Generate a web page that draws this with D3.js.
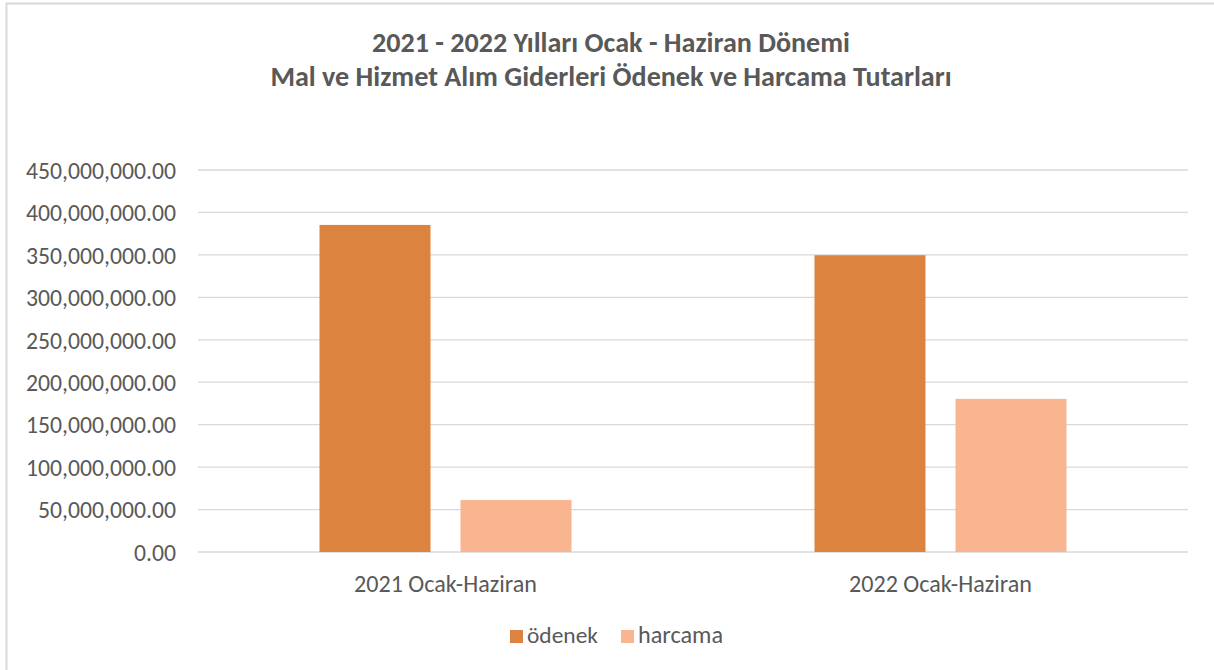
<!DOCTYPE html>
<html>
<head>
<meta charset="utf-8">
<script src="https://cdn.jsdelivr.net/npm/d3@7"></script>
<style>
html,body{margin:0;padding:0;background:#fff;}
svg{display:block;font-family:Carlito,Calibri,Lato,"Open Sans",sans-serif;}
</style>
</head>
<body>
<svg id="chart" width="1214" height="670"></svg>
<script>
const titleLines = ["2021 - 2022 Yılları Ocak - Haziran Dönemi", "Mal ve Hizmet Alım Giderleri Ödenek ve Harcama Tutarları"];
const categories = ["2021 Ocak-Haziran", "2022 Ocak-Haziran"];
const seriesNames = ["ödenek", "harcama"];
const odenek = [385300000, 349600000];
const harcama = [61200000, 180400000];
const yTicks = [0, 50000000, 100000000, 150000000, 200000000, 250000000, 300000000, 350000000, 400000000, 450000000];
const colors = ["#DC843F", "#F8B58F"];

const svg = d3.select("#chart");
const W = 1214, H = 670;
const m = {left: 198, right: 26, top: 170, bottom: 118};
const pw = W - m.left - m.right, ph = H - m.top - m.bottom;
const textColor = "#595959";
const FONT = "Carlito,Calibri,Lato,'Open Sans',sans-serif";

// scale a text's font size so its rendered width matches a target width
function fitWidth(node, target) {
  const sel = d3.select(node);
  const fs = parseFloat(sel.attr("font-size"));
  const w = node.getComputedTextLength();
  if (w > 0) sel.attr("font-size", (fs * target / w).toFixed(2));
  return parseFloat(sel.attr("font-size"));
}

// outer border (top and left visible)
svg.append("path").attr("d", "M6.5,670 L6.5,3.5 L1214,3.5").attr("fill","none").attr("stroke","#D9D9D9").attr("stroke-width",2);

// title
const titleSel = svg.append("g").selectAll("text").data(titleLines).join("text")
  .attr("x", 611).attr("y", (d,i)=> 52 + i*34).attr("text-anchor","middle")
  .attr("font-size", 22).attr("font-weight","bold").attr("font-family", FONT)
  .attr("fill", textColor).text(d=>d);
{
  const tfs = fitWidth(titleSel.nodes()[0], 478);
  titleSel.attr("font-size", tfs);
}

const g = svg.append("g").attr("transform", `translate(${m.left},${m.top})`);
const y = d3.scaleLinear().domain([0, 450000000]).range([ph, 0]);
const x0 = d3.scaleBand().domain(categories).range([0, pw]).paddingInner(0).paddingOuter(0);
const groupW = 252;
const x1 = d3.scaleBand().domain(seriesNames)
  .range([(x0.bandwidth()-groupW)/2, (x0.bandwidth()+groupW)/2])
  .paddingInner(0.2128).paddingOuter(0);

// gridlines
g.append("g").selectAll("line").data(yTicks).join("line")
  .attr("x1",0).attr("x2",pw).attr("y1",d=>y(d)).attr("y2",d=>y(d))
  .attr("stroke","#D9D9D9").attr("stroke-width",1.3);

// y axis
const fmt = d3.format(",.2f");
const yAxis = g.append("g").call(d3.axisLeft(y).tickValues(yTicks).tickFormat(fmt).tickSize(0).tickPadding(22));
yAxis.select(".domain").remove();
yAxis.selectAll("text").attr("font-size", 20).attr("fill", textColor).attr("font-family", FONT).attr("dy","0.35em");
{
  const widest = yAxis.selectAll("text").filter(d=>d===450000000).node();
  const fs = parseFloat(d3.select(widest).attr("font-size"));
  const newFs = (fs * 150 / widest.getComputedTextLength()).toFixed(2);
  yAxis.selectAll("text").attr("font-size", newFs);
}

// bars
const data = categories.map((c,i)=>({cat:c, vals:[{s:seriesNames[0], v:odenek[i]},{s:seriesNames[1], v:harcama[i]}]}));
const grp = g.append("g").selectAll("g").data(data).join("g").attr("transform", d=>`translate(${x0(d.cat)},0)`);
grp.selectAll("rect").data(d=>d.vals).join("rect")
  .attr("x", d=>x1(d.s)).attr("width", x1.bandwidth())
  .attr("y", d=>y(d.v)).attr("height", d=>ph - y(d.v))
  .attr("fill", (d,i)=>colors[i]);

// x axis
const xAxis = g.append("g").attr("transform", `translate(0,${ph})`).call(d3.axisBottom(x0).tickSize(0).tickPadding(23));
xAxis.select(".domain").remove();
xAxis.selectAll("text").attr("font-size", 19).attr("fill", textColor).attr("font-family", FONT)
  .each(function(){ fitWidth(this, 183); });

// legend
const legend = svg.append("g").attr("transform","translate(510,630)");
const legX = [0, 111];
const legW = [71, 85];
const li = legend.selectAll("g").data(seriesNames).join("g").attr("transform",(d,i)=>`translate(${legX[i]},0)`);
li.append("rect").attr("width",13).attr("height",13).attr("fill",(d,i)=>colors[i]);
li.append("text").attr("x",17).attr("y",13).attr("font-size",20).attr("font-family", FONT).attr("fill",textColor).text(d=>d)
  .each(function(d,i){ fitWidth(this, legW[i]); });
</script>
</body>
</html>
